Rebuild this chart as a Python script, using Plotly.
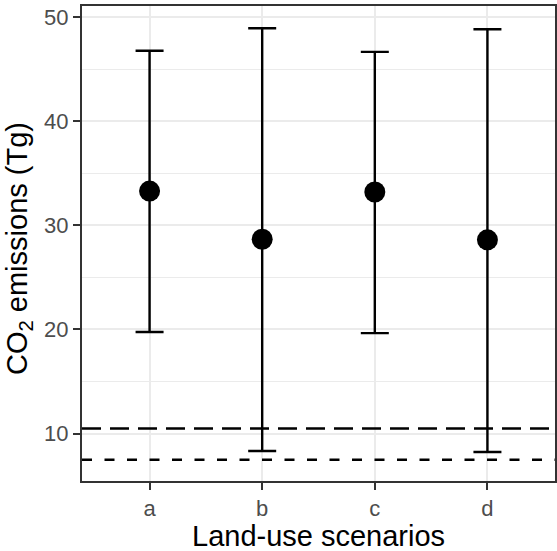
import plotly.graph_objects as go

scenarios = ["a", "b", "c", "d"]
mean_vals = [33.28, 28.66, 33.19, 28.60]
upper_vals = [46.75, 48.92, 46.65, 48.82]
lower_vals = [19.75, 8.33, 19.65, 8.24]
hline_long = 10.5
hline_short = 7.5

err_plus = [u - m for u, m in zip(upper_vals, mean_vals)]
err_minus = [m - l for m, l in zip(mean_vals, lower_vals)]

fig = go.Figure()
fig.add_trace(go.Scatter(
    x=scenarios, y=mean_vals, mode="markers",
    marker=dict(color="black", size=21),
    error_y=dict(type="data", symmetric=False, array=err_plus, arrayminus=err_minus,
                 color="black", thickness=2.4, width=14),
    showlegend=False,
))
fig.add_hline(y=hline_long, line=dict(color="black", width=2.5, dash="19px,9px"))
fig.add_hline(y=hline_short, line=dict(color="black", width=2.5, dash="10px,12.5px"))

L, R, T, B = 82, 2, 6, 70
W, H = 557, 551
pw, ph = W - L - R, H - T - B

fig.update_layout(
    width=W, height=H,
    margin=dict(l=L, r=R, t=T, b=B, autoexpand=False),
    plot_bgcolor="white", paper_bgcolor="white",
    font=dict(family="Liberation Sans, Arial, sans-serif"),
)
fig.update_xaxes(
    range=[-0.6, 3.6], automargin=False,
    showline=True, linecolor="#333333", linewidth=2, mirror=True,
    ticks="outside", ticklen=7, tickwidth=2, tickcolor="#333333",
    tickfont=dict(size=22, color="#4D4D4D"),
    showgrid=True, gridcolor="#EBEBEB", gridwidth=2,
    zeroline=False,
)
fig.update_yaxes(
    range=[5.45, 51.05], automargin=False,
    tickvals=[10, 20, 30, 40, 50],
    showline=True, linecolor="#333333", linewidth=2, mirror=True,
    ticks="outside", ticklen=7, tickwidth=2, tickcolor="#333333",
    tickfont=dict(size=22, color="#4D4D4D"),
    showgrid=True, gridcolor="#EBEBEB", gridwidth=2,
    minor=dict(tickvals=[15, 25, 35, 45], showgrid=True, gridcolor="#EBEBEB", gridwidth=1, ticks=""),
    zeroline=False,
)
fig.add_annotation(
    text="Land-use scenarios", xref="paper", yref="paper",
    x=0.5, y=-(536 - (T + ph)) / ph, xanchor="center", yanchor="middle",
    showarrow=False, font=dict(size=29, color="black"),
)
fig.add_annotation(
    text="CO<sub>2</sub> emissions (Tg)", xref="paper", yref="paper",
    x=-(L - 19) / pw, y=1 - (249 - T) / ph, xanchor="center", yanchor="middle",
    textangle=-90, showarrow=False, font=dict(size=29, color="black"),
)

fig.write_html(
    "out.html",
    config={"displayModeBar": False},
    post_script="document.body.style.margin='0';document.body.style.overflow='hidden';",
)
